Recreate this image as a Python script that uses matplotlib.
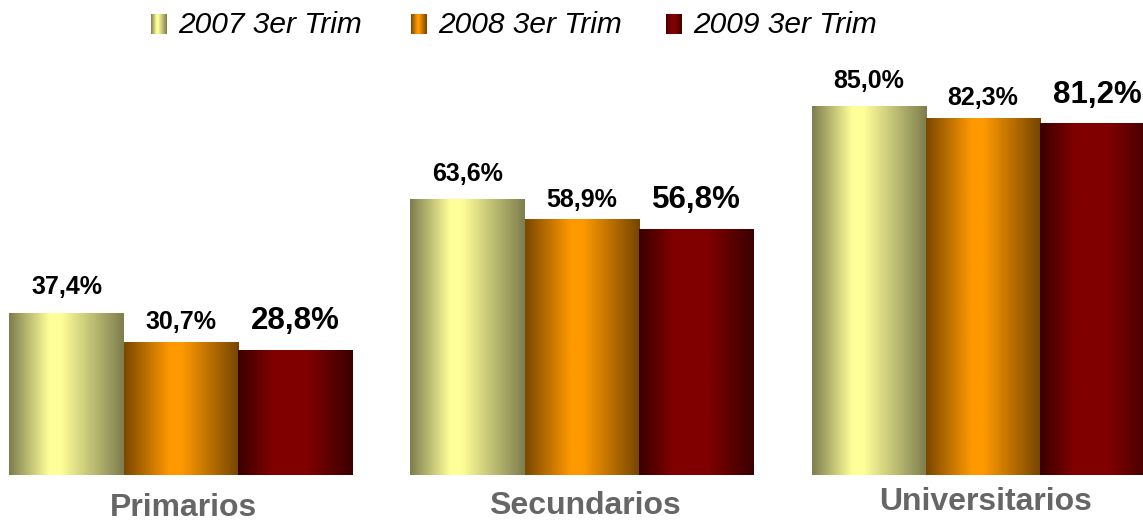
import numpy as np
import matplotlib.pyplot as plt
from matplotlib.colors import LinearSegmentedColormap

plt.rcParams['font.family'] = ['Liberation Sans', 'DejaVu Sans']

categories = ["Primarios", "Secundarios", "Universitarios"]
series = ["2007 3er Trim", "2008 3er Trim", "2009 3er Trim"]
values = [
    [37.4, 63.6, 85.0],
    [30.7, 58.9, 82.3],
    [28.8, 56.8, 81.2],
]

cmaps = [
    LinearSegmentedColormap.from_list("y", [(0, '#7d7d4e'), (0.35, '#ffff99'), (0.45, '#ffff99'), (1, '#7d7d4e')]),
    LinearSegmentedColormap.from_list("o", [(0, '#7a4800'), (0.4, '#ff9900'), (0.5, '#ff9900'), (1, '#754500')]),
    LinearSegmentedColormap.from_list("r", [(0, '#3a0000'), (0.3, '#800000'), (0.6, '#800000'), (1, '#3a0000')]),
]
label_sizes = [18, 18, 22.5]
label_offsets = [10, 6, 10]
cat_offsets = [23.5, 22, 19.5]

fig = plt.figure(figsize=(11.43, 5.22), dpi=100)
ax = fig.add_axes([0, 47 / 522, 1, 475 / 522])
ax.axis('off')

w = 0.285
x = np.arange(len(categories))
grad = np.linspace(0, 1, 256).reshape(1, -1)
for i, (name, vals) in enumerate(zip(series, values)):
    xs = x + (i - 1) * w
    bars = ax.bar(xs, vals, width=w, color='none')
    for b, v in zip(bars, vals):
        x0 = b.get_x()
        ax.imshow(grad, cmap=cmaps[i], extent=[x0, x0 + w, 0, v],
                  aspect='auto', zorder=2)
        ax.annotate(f"{v:.1f}%".replace('.', ','), (x0 + w / 2, v),
                    xytext=(0, label_offsets[i]), textcoords='offset points',
                    ha='center', va='bottom', fontsize=label_sizes[i],
                    fontweight='bold', color='black', annotation_clip=False)

ax.set_xlim(-0.451, 2.399)
ax.set_ylim(0, 109.7)

for j, cat in enumerate(categories):
    ax.annotate(cat, (x[j], 0), xytext=(2, -cat_offsets[j]),
                textcoords='offset points', ha='center', va='center',
                fontsize=23, fontweight='bold', color='#666666',
                annotation_clip=False)

# legend drawn by hand with gradient swatches
leg_x = [151, 411, 666]
for i, name in enumerate(series):
    hx = fig.add_axes([leg_x[i] / 1143, 1 - 34 / 522, 16 / 1143, 20 / 522])
    hx.imshow(grad, cmap=cmaps[i], aspect='auto')
    hx.axis('off')
    fig.text((leg_x[i] + 27) / 1143, 1 - 25 / 522, name, fontsize=21.5,
             fontstyle='italic', va='center', ha='left')

fig.savefig("out.png", dpi=100)
